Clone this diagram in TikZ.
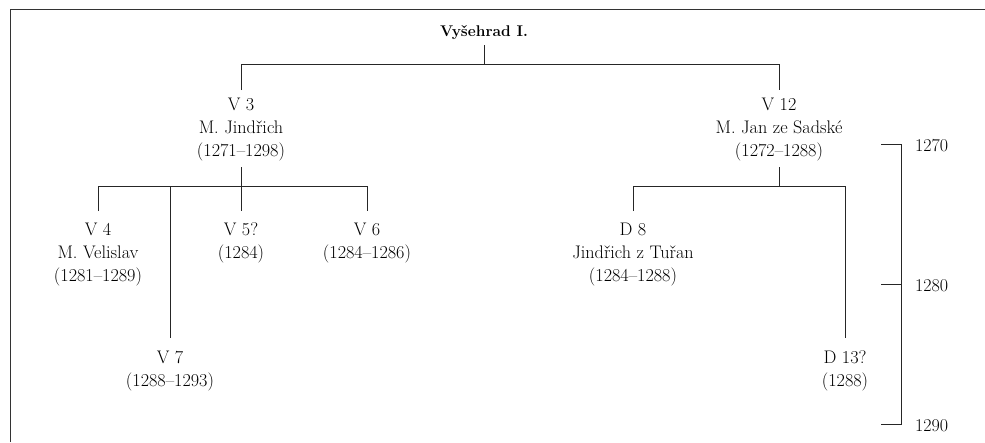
\documentclass[tikz,border=0pt]{standalone}
\usepackage{fontspec}
\setmainfont{Latin Modern Roman}
\begin{document}
\begin{tikzpicture}[x=1pt,y=-1pt,
  lbl/.style={align=center,anchor=north,inner sep=0pt,font=\fontsize{18.2}{23}\selectfont},
  conn/.style={draw=black!85,line width=1pt},
  framel/.style={draw=black!80,line width=1.6pt},
  yearlbl/.style={anchor=west,inner sep=0pt,font=\fontsize{18}{23}\selectfont}]
\useasboundingbox (0,0) rectangle (985,442);
\draw[framel] (10.5,442) -- (10.5,9.5) -- (985,9.5);
% nodes
\node[anchor=base,inner sep=0pt,font=\fontsize{15.5}{20}\selectfont\bfseries] (root) at (484,36) {Vyšehrad I.};
\node[lbl] (v3) at (241,98) {V 3\\M. Jindřich\\(1271–1298)};
\node[lbl] (v12) at (779,98) {V 12\\M. Jan ze Sadské\\(1272–1288)};
\node[lbl] (v4) at (98,223) {V 4\\M. Velislav\\(1281–1289)};
\node[lbl] (v5) at (241,223) {V 5?\\(1284)};
\node[lbl] (v6) at (367,223) {V 6\\(1284–1286)};
\node[lbl] (d8) at (633,223) {D 8\\Jindřich z Tuřan\\(1284–1288)};
\node[lbl] (v7) at (170,351) {V 7\\(1288–1293)};
\node[lbl] (d13) at (845,351) {D 13?\\(1288)};
% bar levels
\coordinate (ba) at (482,64);
\coordinate (bl) at (0,186);
% connectors
\draw[conn] ([yshift=-9pt]root.base) -- (root.base |- ba);
\draw[conn] ([yshift=8pt]v3.north) -- (v3.north |- ba) -- (v12.north |- ba) -- ([yshift=8pt]v12.north);
\draw[conn] ([yshift=-6pt]v3.south) -- ([yshift=12pt]v5.north);
\draw[conn] ([yshift=12pt]v4.north) -- (v4.north |- bl) -- (v6.north |- bl) -- ([yshift=12pt]v6.north);
\draw[conn] (v7.north |- bl) -- ([yshift=13pt]v7.north);
\draw[conn] ([yshift=-6pt]v12.south) -- (v12.south |- bl);
\draw[conn] ([yshift=12pt]d8.north) -- (d8.north |- bl) -- (d13.north |- bl) -- ([yshift=13pt]d13.north);
% timeline
\node[yearlbl] (t1270) at (915,146) {1270};
\node[yearlbl] (t1280) at (915,286) {1280};
\node[yearlbl] (t1290) at (915,426) {1290};
\coordinate (ax) at (901,0);
\draw[conn] ([xshift=-34pt]t1270.west |- 0,144) -- (ax |- 0,144) -- (ax |- 0,424) -- ([xshift=-34pt]t1290.west |- 0,424);
\draw[conn] ([xshift=-34pt]t1280.west |- 0,284) -- (ax |- 0,284);
\end{tikzpicture}
\end{document}
